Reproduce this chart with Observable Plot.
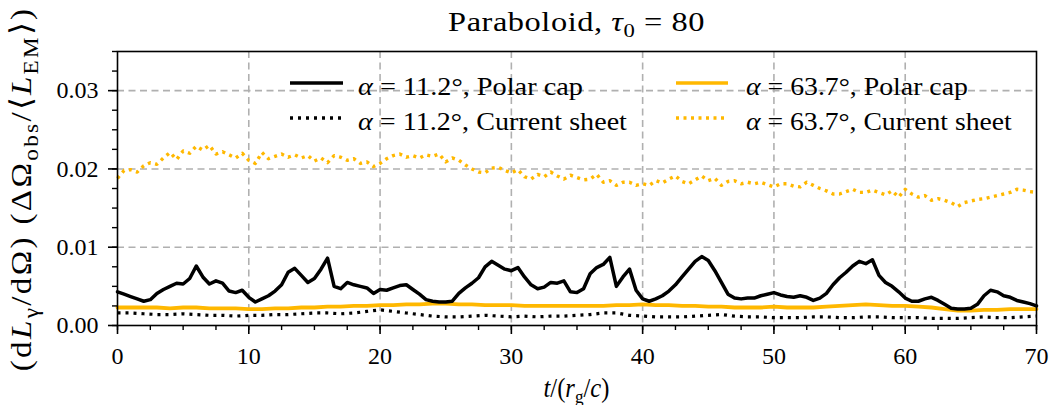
<!DOCTYPE html>
<html><head><meta charset="utf-8">
<script src="https://cdn.jsdelivr.net/npm/d3@7"></script>
<script src="https://cdn.jsdelivr.net/npm/@observablehq/plot@0.6"></script>
<style>
body{margin:0;background:#fff;}
#chart svg{font-family:"Liberation Serif",serif;}
</style>
</head><body><div id="chart"></div>
<script>
// ---- data (time in r_g/c) ----
const stepFine = 0.5;   // sampling of the fine series
const stepCoarse = 1;   // sampling of the coarse series

// alpha = 11.2 deg, polar cap (every 0.5)
const polarCap11 = [
0.0043,0.0040,0.0037,0.0034,0.0031,0.0033,0.0041,0.0046,0.0050,0.0054,
0.0053,0.0060,0.0076,0.0062,0.0053,0.0057,0.0054,0.0044,0.0042,0.0045,
0.0036,0.0030,0.0034,0.0038,0.0044,0.0052,0.0068,0.0073,0.0064,0.0055,
0.0060,0.0072,0.0086,0.0050,0.0047,0.0055,0.0052,0.0050,0.0048,0.0041,
0.0046,0.0045,0.0048,0.0051,0.0052,0.0046,0.0040,0.0033,0.0031,0.0030,
0.0030,0.0031,0.0041,0.0048,0.0054,0.0061,0.0075,0.0082,0.0077,0.0072,
0.0070,0.0074,0.0062,0.0052,0.0047,0.0049,0.0055,0.0054,0.0057,0.0043,
0.0042,0.0047,0.0066,0.0074,0.0078,0.0087,0.0050,0.0062,0.0072,0.0045,
0.0034,0.0031,0.0034,0.0038,0.0044,0.0052,0.0062,0.0072,0.0082,0.0088,
0.0083,0.0070,0.0055,0.0040,0.0035,0.0034,0.0035,0.0035,0.0038,0.0040,
0.0042,0.0039,0.0037,0.0036,0.0038,0.0036,0.0032,0.0035,0.0041,0.0052,
0.0061,0.0068,0.0076,0.0082,0.0079,0.0084,0.0064,0.0055,0.0050,0.0043,
0.0035,0.0031,0.0031,0.0034,0.0036,0.0032,0.0027,0.0022,0.0021,0.0021,
0.0022,0.0027,0.0038,0.0045,0.0043,0.0038,0.0036,0.0032,0.0030,0.0028,
0.0025];

// alpha = 11.2 deg, current sheet (every 1)
const currentSheet11 = [
0.0016,0.0016,0.0015,0.0014,0.0014,0.0015,0.0014,0.0013,0.0013,0.0012,
0.0013,0.0013,0.0014,0.0014,0.0015,0.0016,0.0016,0.0015,0.0016,0.0018,
0.0020,0.0018,0.0016,0.0014,0.0012,0.0011,0.0011,0.0012,0.0013,0.0012,
0.0011,0.0012,0.0011,0.0012,0.0012,0.0013,0.0014,0.0016,0.0016,0.0013,
0.0012,0.0011,0.0011,0.0011,0.0012,0.0013,0.0014,0.0012,0.0011,0.0011,
0.0010,0.0010,0.0010,0.0011,0.0011,0.0010,0.0010,0.0011,0.0011,0.0010,
0.0010,0.0010,0.0009,0.0009,0.0009,0.0010,0.0011,0.0010,0.0010,0.0011,
0.0012];

// alpha = 63.7 deg, polar cap (every 1)
const polarCap63 = [
0.0023,0.0023,0.0023,0.0023,0.0022,0.0023,0.0023,0.0022,0.0022,0.0022,
0.0021,0.0021,0.0022,0.0022,0.0023,0.0023,0.0024,0.0024,0.0025,0.0025,
0.0026,0.0026,0.0027,0.0027,0.0028,0.0028,0.0027,0.0027,0.0026,0.0026,
0.0026,0.0025,0.0025,0.0025,0.0025,0.0025,0.0025,0.0025,0.0026,0.0026,
0.0027,0.0026,0.0026,0.0025,0.0025,0.0024,0.0024,0.0023,0.0023,0.0023,
0.0024,0.0023,0.0023,0.0023,0.0024,0.0025,0.0026,0.0027,0.0026,0.0025,
0.0025,0.0024,0.0023,0.0021,0.0019,0.0019,0.0020,0.0020,0.0021,0.0021,
0.0021];

// alpha = 63.7 deg, current sheet (every 0.5)
const currentSheet63 = [
0.0188,0.0198,0.0199,0.0196,0.0204,0.0208,0.0206,0.0214,0.0221,0.0212,
0.0223,0.0220,0.0229,0.0224,0.0230,0.0219,0.0222,0.0218,0.0214,0.0220,
0.0211,0.0207,0.0221,0.0213,0.0216,0.0219,0.0215,0.0218,0.0214,0.0217,
0.0210,0.0214,0.0208,0.0217,0.0215,0.0211,0.0213,0.0207,0.0209,0.0203,
0.0207,0.0213,0.0217,0.0219,0.0215,0.0217,0.0214,0.0218,0.0216,0.0219,
0.0209,0.0214,0.0211,0.0205,0.0200,0.0196,0.0195,0.0201,0.0202,0.0198,
0.0195,0.0199,0.0190,0.0187,0.0193,0.0190,0.0196,0.0191,0.0187,0.0192,
0.0189,0.0186,0.0187,0.0193,0.0183,0.0185,0.0179,0.0183,0.0183,0.0179,
0.0181,0.0179,0.0185,0.0182,0.0187,0.0191,0.0184,0.0181,0.0186,0.0191,
0.0185,0.0188,0.0179,0.0184,0.0185,0.0181,0.0183,0.0181,0.0183,0.0180,
0.0177,0.0181,0.0181,0.0178,0.0177,0.0183,0.0179,0.0175,0.0172,0.0168,
0.0168,0.0171,0.0174,0.0170,0.0170,0.0173,0.0170,0.0167,0.0172,0.0164,
0.0174,0.0168,0.0164,0.0166,0.0160,0.0162,0.0160,0.0157,0.0152,0.0157,
0.0159,0.0161,0.0162,0.0164,0.0166,0.0168,0.0170,0.0174,0.0173,0.0171,
0.0170];

const xTicks = [0,10,20,30,40,50,60,70];
const yTicks = [0,0.01,0.02,0.03];
const yTickLabels = ["0.00","0.01","0.02","0.03"];
const xDomain = [0,70];
const yDomain = [0,0.035];

const BLACK = "#000000";
const YELLOW = "#FFB800";

const toRows = (arr, step) => arr.map((v,i) => ({t: i*step, v}));

const minorX = d3.range(0, 70.001, 2.5);
const minorY = d3.range(0, 0.03501, 0.0025);

const chart = Plot.plot({
  width: 1052, height: 405,
  marginLeft: 117, marginRight: 16, marginTop: 51, marginBottom: 80,
  style: {fontFamily: "Liberation Serif, serif", fontSize: "24px", background: "white", color: "black", overflow: "visible"},
  x: {domain: xDomain},
  y: {domain: yDomain},
  marks: [
    Plot.gridX(xTicks.slice(1,-1), {stroke: "#b0b0b0", strokeOpacity: 1, strokeWidth: 1.6, strokeDasharray: "7,4.5"}),
    Plot.gridY(yTicks.slice(1), {stroke: "#b0b0b0", strokeOpacity: 1, strokeWidth: 1.6, strokeDasharray: "7,4.5"}),
    Plot.line(toRows(currentSheet63, stepFine), {x: "t", y: "v", stroke: YELLOW, strokeWidth: 3.4, strokeDasharray: "3,4.5", strokeLinecap: "butt"}),
    Plot.line(toRows(polarCap63, stepCoarse), {x: "t", y: "v", stroke: YELLOW, strokeWidth: 3.8}),
    Plot.line(toRows(currentSheet11, stepCoarse), {x: "t", y: "v", stroke: BLACK, strokeWidth: 3.2, strokeDasharray: "3,5", strokeLinecap: "butt"}),
    Plot.line(toRows(polarCap11, stepFine), {x: "t", y: "v", stroke: BLACK, strokeWidth: 3.5, strokeLinejoin: "round"}),
    Plot.frame({stroke: "black", strokeWidth: 1.6}),
    Plot.axisX(minorX, {tickSize: 5, strokeWidth: 1.4, text: null, label: null}),
    Plot.axisX(xTicks, {tickSize: 9, strokeWidth: 1.6, tickPadding: 12, fontSize: 24, label: null, tickFormat: d => String(d)}),
    Plot.axisY(minorY, {tickSize: 5, strokeWidth: 1.4, text: null, label: null}),
    Plot.axisY(yTicks, {tickSize: 9, strokeWidth: 1.6, text: null, label: null}),
    Plot.text(yTicks, {y: d => d, text: d => yTickLabels[yTicks.indexOf(d)], frameAnchor: "left", textAnchor: "end", dx: -19, fontSize: 24, fill: "black"})
  ]
});
document.getElementById("chart").appendChild(chart);

// ---- text & legend ----
const svg = d3.select(chart);
function addRich(g, parts, fs){
  parts.forEach(p => {
    const ts = g.append("tspan").text(p.t);
    if (p.i) ts.attr("font-style","italic");
    if (p.sub) ts.attr("font-size", fs*0.7).attr("dy", fs*0.22);
    if (p.back) ts.attr("dy", -fs*0.22);
  });
}
// text placed at (x,y), widened to a target width: mild horizontal scale, the rest as letter spacing
function fitted(x, y, fs, anchor, parts, target, rotate, maxScale){
  const t = svg.append("text").attr("x", 0).attr("y", 0).attr("text-anchor", anchor)
    .attr("font-size", fs).attr("fill","black").attr("font-family","Liberation Serif, serif");
  addRich(t, parts, fs);
  let k = 1;
  if (target) {
    const w = t.node().getBBox().width;
    const n = parts.reduce((s,p) => s + p.t.length, 0);
    k = Math.min(target / w, maxScale || 1.2);
    let extra = target / k - w;
    if (extra > 0.5) {
      let ls = extra / n;
      t.attr("letter-spacing", ls);
      const w2 = t.node().getBBox().width;
      ls = ls * (target / k - w) / Math.max(1e-6, (w2 - w));
      t.attr("letter-spacing", ls);
      const w3 = t.node().getBBox().width;
      k = target / w3;
    }
  }
  t.attr("transform", `translate(${x},${y})` + (rotate ? ` rotate(${rotate})` : "") + ` scale(${k},1)`);
  return t;
}
// title
fitted(576.5, 31, 27, "middle", [{t:"Paraboloid, "},{t:"τ",i:1},{t:"0",sub:1},{t:" = 80",back:1}], 257);
// x label
fitted(576.5, 397, 27, "middle", [{t:"t",i:1},{t:"/("},{t:"r",i:1},{t:"g",sub:1},{t:"/",back:1},{t:"c",i:1},{t:")"}], 66);
// y label
fitted(31, 189, 30, "middle", [{t:"(d"},{t:"L",i:1},{t:"γ",sub:1},{t:"/dΩ) (ΔΩ",back:1},{t:"obs",sub:1},{t:"/⟨",back:1},{t:"L",i:1},{t:"EM",sub:1},{t:"⟩)",back:1}], 366, -90, 1.1);

// legend
const legend = [
  {x0: 290, x1: 343, tx: 358, y: 83, color: BLACK, dash: null, label: "11.2°, Polar cap", len: 225},
  {x0: 290, x1: 343, tx: 358, y: 118, color: BLACK, dash: "3,5", label: "11.2°, Current sheet", len: 269},
  {x0: 676, x1: 728, tx: 746, y: 83, color: YELLOW, dash: null, label: "63.7°, Polar cap", len: 222},
  {x0: 676, x1: 728, tx: 746, y: 118, color: YELLOW, dash: "3,4.5", label: "63.7°, Current sheet", len: 266}
];
legend.forEach(d => {
  svg.append("line").attr("x1", d.x0).attr("x2", d.x1).attr("y1", d.y).attr("y2", d.y)
    .attr("stroke", d.color).attr("stroke-width", 3.6).attr("stroke-dasharray", d.dash);
  fitted(d.tx, d.y + 12, 25, "start", [{t:"α",i:1},{t:" = " + d.label}], d.len);
});
</script>
</body></html>
